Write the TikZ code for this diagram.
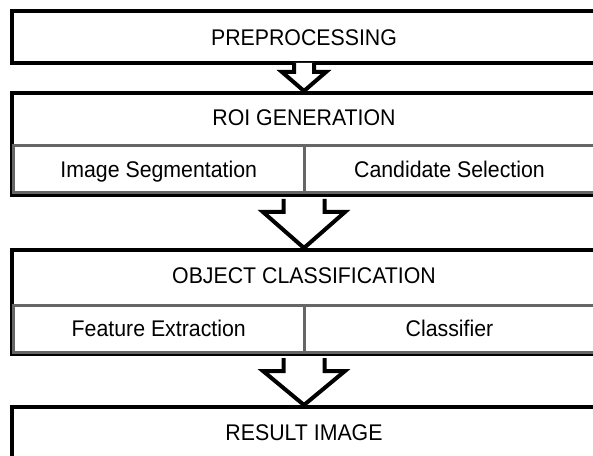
\documentclass[tikz,border=0pt]{standalone}
\usepackage{fontspec}
\setmainfont{Liberation Sans}[FakeStretch=0.94]
\usetikzlibrary{fit,calc}
\begin{document}
\begin{tikzpicture}[x=0.75pt,y=-0.75pt,
  bigbox/.style={draw=black, line width=3pt, inner sep=0pt, fill=white},
  subbox/.style={draw=black!60, line width=2.25pt, inner sep=0pt},
  lbl/.style={font=\fontsize{17}{20}\selectfont, inner sep=0pt, text height=12.2pt, text depth=0pt},
  arr/.style={draw=black, line width=3pt, fill=white}]
\useasboundingbox (0,0) rectangle (593,456);
\clip (0,0) rectangle (593,456);
% boxes
\node[bigbox, fit={(12,11) (596,63)}] (pre) {};
\node[bigbox, fit={(12,93) (596,195)}] (roi) {};
\node[subbox, fit={(13.5,146) (304,193)}] (seg) {};
\node[subbox, fit={(304,146) (595,193)}] (cand) {};
\node[bigbox, fit={(12,250) (596,354)}] (obj) {};
\node[subbox, fit={(13.5,305) (304,352)}] (feat) {};
\node[subbox, fit={(304,305) (595,352)}] (clf) {};
\node[bigbox, fit={(12,407) (596,458)}] (res) {};
% labels
\node[lbl] (pret) at (pre.center) {PREPROCESSING};
\node[lbl] (roit) at ($(roi.north)!0.5!(roi.north |- seg.north)$) {ROI GENERATION};
\node[lbl] (segt) at (seg.center) {Image Segmentation};
\node[lbl] (candt) at (cand.center) {Candidate Selection};
\node[lbl] (objt) at ($(obj.north)!0.5!(obj.north |- feat.north)$) {OBJECT CLASSIFICATION};
\node[lbl] (featt) at (feat.center) {Feature Extraction};
\node[lbl] (clft) at (clf.center) {Classifier};
\node[lbl] (rest) at (res.center) {RESULT IMAGE};
% small arrow (breaks the box line)
\fill[white] ($(pre.south)+(-10,-2)$) -- ($(pre.south)+(-10,7)$) -- ($(pre.south)+(-22,7)$)
  -- (roi.north) -- ($(pre.south)+(22,7)$) -- ($(pre.south)+(10,7)$) -- ($(pre.south)+(10,-2)$) -- cycle;
\draw[line width=3pt] ($(pre.south)+(-10,-2)$) -- ($(pre.south)+(-10,7)$) -- ($(pre.south)+(-22,7)$)
  -- (roi.north) -- ($(pre.south)+(22,7)$) -- ($(pre.south)+(10,7)$) -- ($(pre.south)+(10,-2)$);
% big arrows
\draw[arr] ($(roi.south)+(-20.5,2)$) -- ($(roi.south)+(-20.5,15)$) -- ($(roi.south)+(-41,15)$)
  -- (obj.north) -- ($(roi.south)+(41,15)$) -- ($(roi.south)+(20.5,15)$) -- ($(roi.south)+(20.5,2)$);
\draw[arr] ($(obj.south)+(-20.5,2)$) -- ($(obj.south)+(-20.5,15)$) -- ($(obj.south)+(-41,15)$)
  -- (res.north) -- ($(obj.south)+(41,15)$) -- ($(obj.south)+(20.5,15)$) -- ($(obj.south)+(20.5,2)$);
\end{tikzpicture}
\end{document}
